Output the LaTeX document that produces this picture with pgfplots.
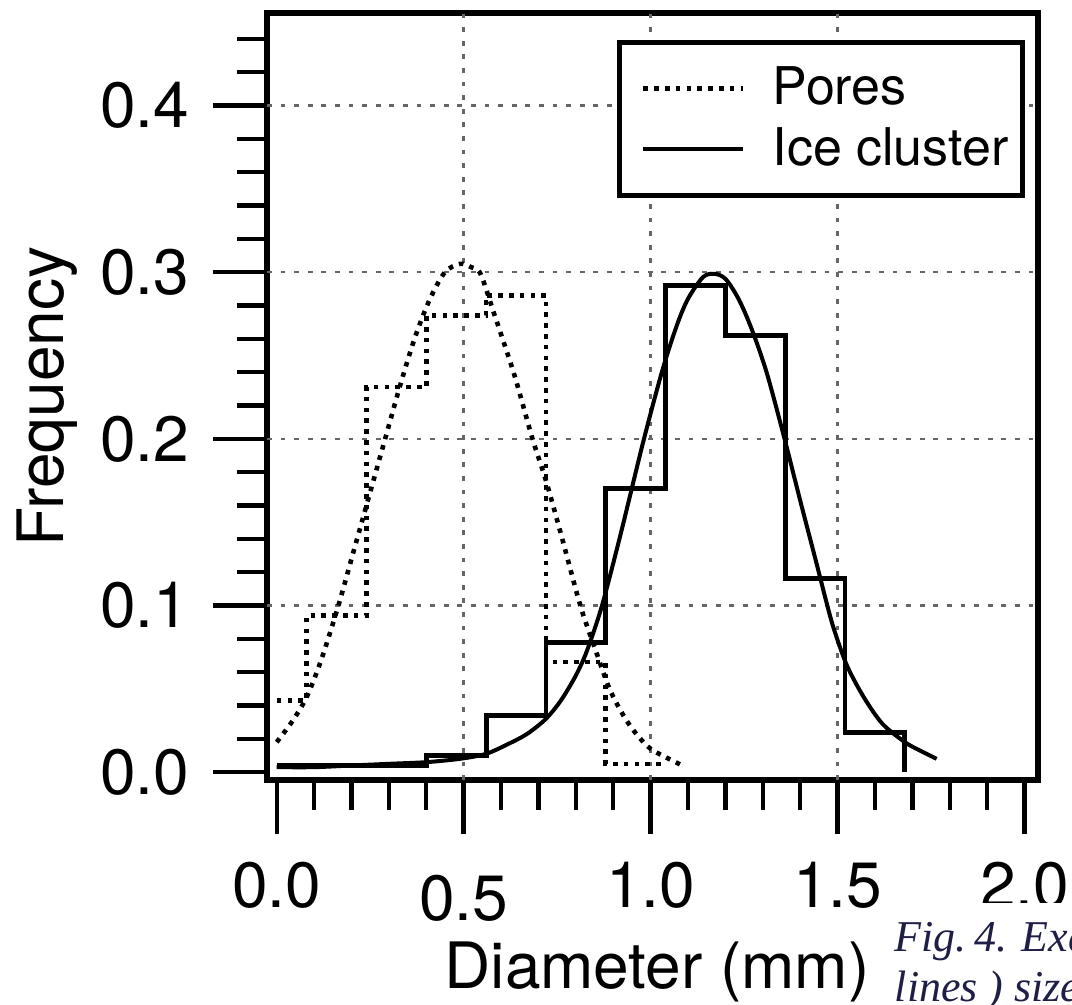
\documentclass[border=0pt]{standalone}
\usepackage{fontspec}
\setmainfont{TeX Gyre Heros}
\newfontfamily\capfont{Liberation Serif}
\usepackage{pgfplots}
\pgfplotsset{compat=1.18}
\definecolor{capblue}{RGB}{30,30,70}
\begin{document}
\begin{tikzpicture}
\begin{axis}[
  at={(0pt,0pt)}, anchor=south west,
  scale only axis, width=192.75pt, height=191.75pt,
  xmin=-0.026, xmax=2.036, ymin=-0.0047, ymax=0.4555,
  axis line style={line width=1.3pt},
  xtick={0,0.5,1,1.5,2},
  xticklabels={0.0,\raisebox{-3.25pt}{0.5},1.0,1.5,2.0},
  ytick={0,0.1,0.2,0.3,0.4},
  yticklabels={0.0,0.1,0.2,0.3,0.4},
  minor xtick={0.1,0.2,0.3,0.4,0.6,0.7,0.8,0.9,1.1,1.2,1.3,1.4,1.6,1.7,1.8,1.9},
  minor ytick={0.02,0.04,0.06,0.08,0.12,0.14,0.16,0.18,0.22,0.24,0.26,0.28,0.32,0.34,0.36,0.38,0.42,0.44},
  tick align=outside,
  xtick pos=bottom, ytick pos=left,
  major tick length=13.5pt, minor tick length=7.5pt,
  every tick/.style={line width=1.1pt, black},
  tick label style={font=\fontsize{16}{19}\selectfont},
  label style={font=\fontsize{16}{19}\selectfont},
  xticklabel style={anchor=base, inner sep=0pt, yshift=-18.5pt},
  yticklabel style={anchor=east, inner sep=0pt, xshift=-5.75pt},
  extra x ticks={0.5,1,1.5}, extra x tick labels={,,},
  extra y ticks={0.1,0.2,0.3,0.4}, extra y tick labels={,,,},
  extra tick style={grid=major, major tick length=0pt},
  major grid style={black!60, line width=0.65pt, dash pattern=on 1.2pt off 2.2pt},
  xlabel={Diameter (mm)},
  xlabel style={at={(axis description cs:0.506,-0.2712)}, anchor=base},
  ylabel={Frequency},
  ylabel style={at={(axis description cs:-0.264,0.5)}, anchor=base},
  legend style={at={(axis description cs:0.9831,0.9648)}, anchor=north east,
    draw=black, line width=1.2pt, fill=white, inner xsep=3.5pt, inner ysep=6pt,
    row sep=4.25pt, column sep=6.75pt, font=\fontsize{13}{15}\selectfont,
    nodes={inner sep=0pt}},
  legend cell align=left,
  legend image code/.code={\path[draw=none] (0pt,0pt) -- (2.5pt,0pt); \draw[#1] (2.5pt,0pt) -- (27.5pt,0pt);},
]
% Pores histogram
\addplot[forget plot, const plot, black, line width=1.15pt, dash pattern=on 1.15pt off 1.55pt]
  coordinates {(0,0.043)(0.08,0.094)(0.24,0.231)(0.40,0.274)(0.56,0.286)(0.72,0.066)(0.88,0.005)(1.04,0.005)};
% Pores density
\addplot[black, line width=1.15pt, dash pattern=on 1.15pt off 1.55pt, smooth]
  coordinates {(0.000,0.018)(0.040,0.030)(0.080,0.045)(0.120,0.068)(0.165,0.100)(0.200,0.128)(0.240,0.160)(0.290,0.200)(0.330,0.232)(0.370,0.261)(0.410,0.284)(0.450,0.300)(0.490,0.305)(0.520,0.303)(0.545,0.299)(0.580,0.276)(0.610,0.256)(0.640,0.235)(0.684,0.200)(0.720,0.175)(0.760,0.143)(0.812,0.100)(0.850,0.075)(0.890,0.050)(0.930,0.033)(0.965,0.022)(1.000,0.014)(1.040,0.009)(1.085,0.004)};
\addlegendentry{Pores}
% Ice histogram
\addplot[forget plot, const plot, black, line width=1.2pt]
  coordinates {(0,0.004)(0.40,0.0098)(0.56,0.034)(0.72,0.078)(0.88,0.170)(1.04,0.292)(1.20,0.262)(1.36,0.116)(1.52,0.0238)(1.68,0.0)};
% Ice density
\addplot[black, line width=1pt, smooth]
  coordinates {(0.00,0.003)(0.10,0.003)(0.20,0.004)(0.30,0.005)(0.40,0.006)(0.49,0.008)(0.56,0.011)(0.62,0.017)(0.67,0.023)(0.72,0.032)(0.76,0.043)(0.80,0.058)(0.83,0.073)(0.87,0.100)(0.92,0.143)(0.98,0.198)(1.03,0.240)(1.07,0.268)(1.10,0.284)(1.14,0.297)(1.17,0.299)(1.20,0.296)(1.235,0.284)(1.27,0.266)(1.31,0.240)(1.357,0.201)(1.40,0.163)(1.444,0.125)(1.469,0.103)(1.49,0.086)(1.525,0.064)(1.57,0.045)(1.62,0.029)(1.68,0.018)(1.72,0.013)(1.765,0.008)};
\addlegendentry{Ice cluster}
\end{axis}
\fill[white] (152.25pt,-30.75pt) rectangle (215pt,-60pt);
\node[anchor=base west, inner sep=0pt, text=capblue, font=\capfont\itshape\fontsize{11}{13}\selectfont] at (156.75pt,-43pt) {Fig.\,4. Example of};
\node[anchor=base west, inner sep=0pt, text=capblue, font=\capfont\itshape\fontsize{11}{13}\selectfont] at (156.75pt,-55.5pt) {lines ) size distributions};
\pgfresetboundingbox
\useasboundingbox (-66.75pt,-56.25pt) rectangle (201.25pt,195pt);
\end{tikzpicture}
\end{document}
